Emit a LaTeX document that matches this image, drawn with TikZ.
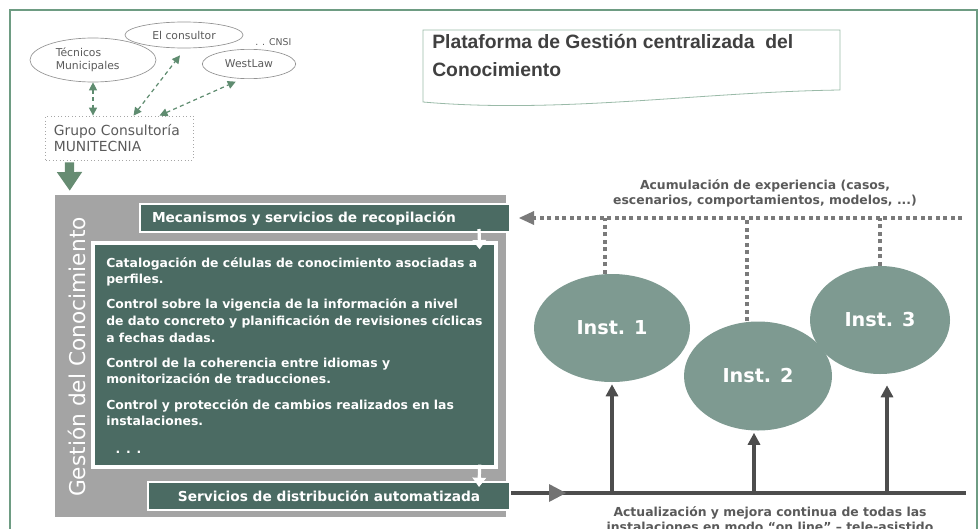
\documentclass[tikz,border=0pt]{standalone}
\usepackage{fontspec}
\setmainfont{DejaVu Sans}
\newfontfamily\arialf{Liberation Sans}
\usetikzlibrary{arrows.meta,calc,shapes.geometric}
\definecolor{frameg}{HTML}{6E9C83}
\definecolor{bigg}{HTML}{668C72}
\definecolor{dteal}{HTML}{4B6B63}
\definecolor{iteal}{HTML}{7E9A91}
\definecolor{gbox}{HTML}{A4A4A4}
\definecolor{dotg}{HTML}{7A7A7A}
\definecolor{darkl}{HTML}{4D4D4D}
\definecolor{labg}{HTML}{5A5A5A}
\definecolor{titleg}{HTML}{404040}
\definecolor{dashg}{HTML}{5F8C70}
\tikzset{
  topell/.style={ellipse, draw=gray!85, line width=0.5pt, inner sep=0pt, text=labg, font=\fontsize{8.1}{9.6}\selectfont},
  dasharr/.style={dashg, line width=0.9pt, dash pattern=on 3pt off 2.5pt, {Triangle[width=6pt,length=6pt]}-{Triangle[width=6pt,length=6pt]}},
  tealbox/.style={rectangle, fill=dteal, draw=white, line width=1.5pt, text=white, inner sep=0pt, font=\bfseries\fontsize{10.3}{12}\selectfont},
  instell/.style={ellipse, fill=iteal, inner sep=0pt, text=white, font=\bfseries\fontsize{14.4}{16}\selectfont},
  whitearr/.style={white, line width=2.4pt, -{Triangle[width=10pt,length=7pt]}},
  dotline/.style={dotg, line width=3pt, dash pattern=on 3pt off 2.6pt},
  uparr/.style={darkl, line width=2.4pt, -{Triangle[width=9pt,length=9pt]}},
  graylab/.style={text=labg, font=\bfseries\fontsize{9.3}{11.5}\selectfont, align=center}
}
\begin{document}
\begin{tikzpicture}[x=0.75pt,y=-0.75pt]
\useasboundingbox (0,0) rectangle (980,528);
\clip (0,0) rectangle (980,528);
% outer frame
\draw[frameg, line width=1.5pt] (10,10) rectangle (977,570);

% top ellipses
\node[topell, minimum width=94.5pt, minimum height=33pt, align=left] (tec) at (93,60) {Técnicos\\Municipales\hspace*{8pt}};
\node[topell, minimum width=88.5pt, minimum height=19.5pt] (cons) at (184,35) {El consultor};
\node[topell, minimum width=70pt, minimum height=22pt] (west) at (249,64) {WestLaw};
\node[text=labg, font=\fontsize{7}{8}\selectfont, anchor=west, inner sep=0pt] (cnsi) at (255,42) {. . CNSI};

% grupo box
\node[draw=gray!70, dotted, line width=0.6pt, minimum height=33pt, text width=98.5pt, inner xsep=6pt, align=left, text=labg, font=\fontsize{10.4}{12.5}\selectfont] (grupo) at (119.5,138) {Grupo Consultoría\\MUNITECNIA};

\draw[dasharr] (tec.south) -- (grupo.north -| tec.south);
\draw[dasharr] ($(grupo.north)+(14,0)$) -- ($(cons.south)+(-4,7)$);
\draw[dasharr] ($(grupo.north)+(40,0)$) -- ($(west.235)+(-3,3)$);

% title
\draw[frameg!70, line width=0.6pt] (423,30) -- (840,30) -- (840,90) .. controls (700,92) and (560,114) .. (423,102) -- cycle;
\node[anchor=north west, text=titleg, align=left, font=\arialf\bfseries\fontsize{14.5}{21}\selectfont, inner sep=0pt] (title) at (432,34) {Plataforma de Gestión centralizada\ \ del\\Conocimiento};

% gray block
\node[rectangle, fill=gbox, minimum width=338.25pt, minimum height=241.5pt, inner sep=0pt] (gk) at (280.5,356) {};
\node[rotate=90, text=white, font=\fontsize{16.3}{18}\selectfont] (gklab) at (77,357) {Gestión del Conocimiento};

\draw[bigg, line width=7pt, -{Triangle[width=18pt,length=14pt]}] ($(grupo.south west)+(24,2)$) -- ($(gk.north west)+(15,-4)$);

\node[tealbox, minimum height=21pt, text width=259.5pt, inner xsep=9pt, align=left] (mec) at (325,218) {Mecanismos y servicios de recopilación};
\node[tealbox, line width=2.5pt, minimum width=302.25pt, minimum height=168pt] (inner) at (294.5,355) {};
\node[anchor=north west, inner sep=0pt, text=white, align=left, font=\bfseries\fontsize{9.3}{12.5}\selectfont] (innertxt) at (106,257)
 {Catalogación de células de conocimiento asociadas a\\perfiles.\\[6.3pt]
  Control sobre la vigencia de la información a nivel\\de dato concreto y planificación de revisiones cíclicas\\a fechas dadas.\\[6.3pt]
  Control de la coherencia entre idiomas y\\monitorización de traducciones.\\[6.3pt]
  Control y protección de cambios realizados en las\\instalaciones.\\[8.5pt]
  \hspace{7pt}. . .};
\node[tealbox, minimum width=271.5pt, minimum height=21pt] (serv) at (329,496) {Servicios de distribución automatizada};

\draw[whitearr] ($(mec.south east)+(-32,-4)$) -- ($(inner.north east)+(-18,8)$);
\draw[whitearr] ($(inner.south east)+(-18,-4)$) -- ($(serv.north east)+(-32,6)$);

% right side
\node[graylab] (acum) at (765,193) {Acumulación de experiencia (casos,\\escenarios, comportamientos, modelos, ...)};
\coordinate (dR) at (962,218);
\coordinate (dL) at (519,218);

\node[instell, minimum width=117pt, minimum height=81pt] (i1) at (612,328) {Inst. 1};
\node[instell, minimum width=111pt, minimum height=81.75pt] (i2) at (758,376) {Inst. 2};
\node[instell, minimum width=105pt, minimum height=81pt] (i3) at (880,320) {Inst. 3};

\draw[dotline] (dR) -- ($(dL)+(14,0)$);
\fill[dotg] (dL) -- ($(dL)+(15,-7)$) -- ($(dL)+(15,7)$) -- cycle;
\path (i1.north) ++(-7,0) coordinate (v1);
\path (i2.north) ++(-11,0) coordinate (v2);
\path (i3.north) coordinate (v3);
\draw[dotline, line width=2.8pt] (v1) -- (v1 |- dL);
\draw[dotline, line width=2.8pt] (v2) -- (v2 |- dL);
\draw[dotline, line width=2.8pt] (v3) -- (v3 |- dL);

\coordinate (lR) at (966,493);
\draw[darkl, line width=2.6pt] (serv.east |- lR) -- (lR);
\fill[gray!90!black] (549,484) -- (566,493) -- (549,502) -- cycle;
\path (i1.south) ++(0,2) coordinate (a1);
\path (i2.south) ++(-4,2) coordinate (a2);
\path (i3.south) ++(7,11) coordinate (a3);
\draw[uparr] (a1 |- lR) -- (a1);
\draw[uparr] (a2 |- lR) -- (a2);
\draw[uparr] (a3 |- lR) -- (a3);

\node[graylab, anchor=north] (actual) at (770,502) {Actualización y mejora continua de todas las\\instalaciones en modo “on line” – tele-asistido};
\end{tikzpicture}
\end{document}
